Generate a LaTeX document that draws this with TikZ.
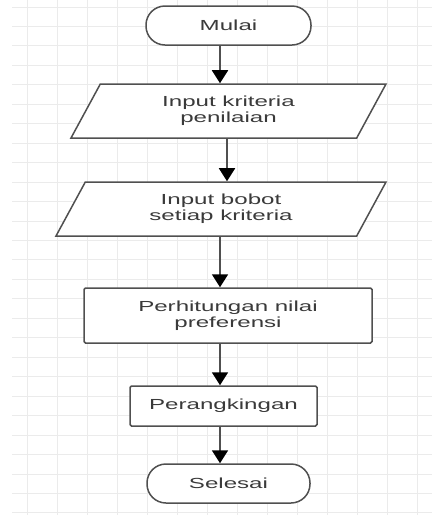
\documentclass[tikz,border=0pt]{standalone}
\usepackage{fontspec}
\newfontfamily\flowfont{Liberation Sans}[FakeStretch=1.65]
\usepackage{tikz}
\usetikzlibrary{shapes.geometric}
\usetikzlibrary{arrows.meta}
\definecolor{gridgray}{HTML}{EBEBEB}
\definecolor{linegray}{HTML}{505050}
\definecolor{textgray}{HTML}{3A3A3A}

\tikzset{
  box/.style={draw=linegray, line width=1.5pt, fill=white, text=textgray,
    font=\flowfont\fontsize{14.6}{15.7}\selectfont, align=center, inner sep=0pt},
  terminal/.style={box, rounded corners=19pt},
  process/.style={box, rounded corners=1.5pt},
  io/.style={box, trapezium, trapezium left angle=45, trapezium right angle=135,
    trapezium stretches body},
  flow/.style={draw=linegray, line width=1.8pt, -{Triangle[width=16pt,length=13pt,color=black]}}
}

\begin{document}
\begin{tikzpicture}[x=1pt,y=-1pt]
\useasboundingbox (0,0) rectangle (432,515);
\fill[white] (0,0) rectangle (432,515);
%grid
\foreach \gx in {27,57,...,417} \draw[gridgray, line width=1pt] (\gx,0) -- (\gx,515);
\foreach \k in {0,...,26} \draw[gridgray, line width=1pt] (12,{7+19.46*\k}) -- (432,{7+19.46*\k});
%steps
\node[terminal, minimum width=165pt, minimum height=39pt] (mulai) at (228.5,25.5) {Mulai};
\node[io, minimum width=315pt, minimum height=54pt] (kriteria) at (228.5,111) {Input kriteria\\penilaian};
\node[io, minimum width=330pt, minimum height=54pt] (bobot) at (221,209) {Input bobot\\setiap kriteria};
\node[process, minimum width=288pt, minimum height=55pt] (hitung) at (228,315.5) {Perhitungan nilai\\preferensi};
\node[process, minimum width=187pt, minimum height=40pt] (ranking) at (223.5,406) {Perangkingan};
\node[terminal, minimum width=163pt, minimum height=39pt] (selesai) at (228.5,483.5) {Selesai};
%arrows
\coordinate (a1) at ([xshift=-8.5pt]mulai.south);
\coordinate (a2) at ([xshift=-1.5pt]kriteria.south);
\coordinate (a3) at ([xshift=-1pt]bobot.south);
\coordinate (a4) at ([xshift=-8pt]hitung.south);
\coordinate (a5) at ([xshift=-3.5pt]ranking.south);
\draw[flow] (a1) -- (a1 |- kriteria.north);
\draw[flow] (a2) -- (a2 |- bobot.north);
\draw[flow] (a3) -- (a3 |- hitung.north);
\draw[flow] (a4) -- (a4 |- ranking.north);
\draw[flow] (a5) -- (a5 |- selesai.north);
\end{tikzpicture}
\end{document}
